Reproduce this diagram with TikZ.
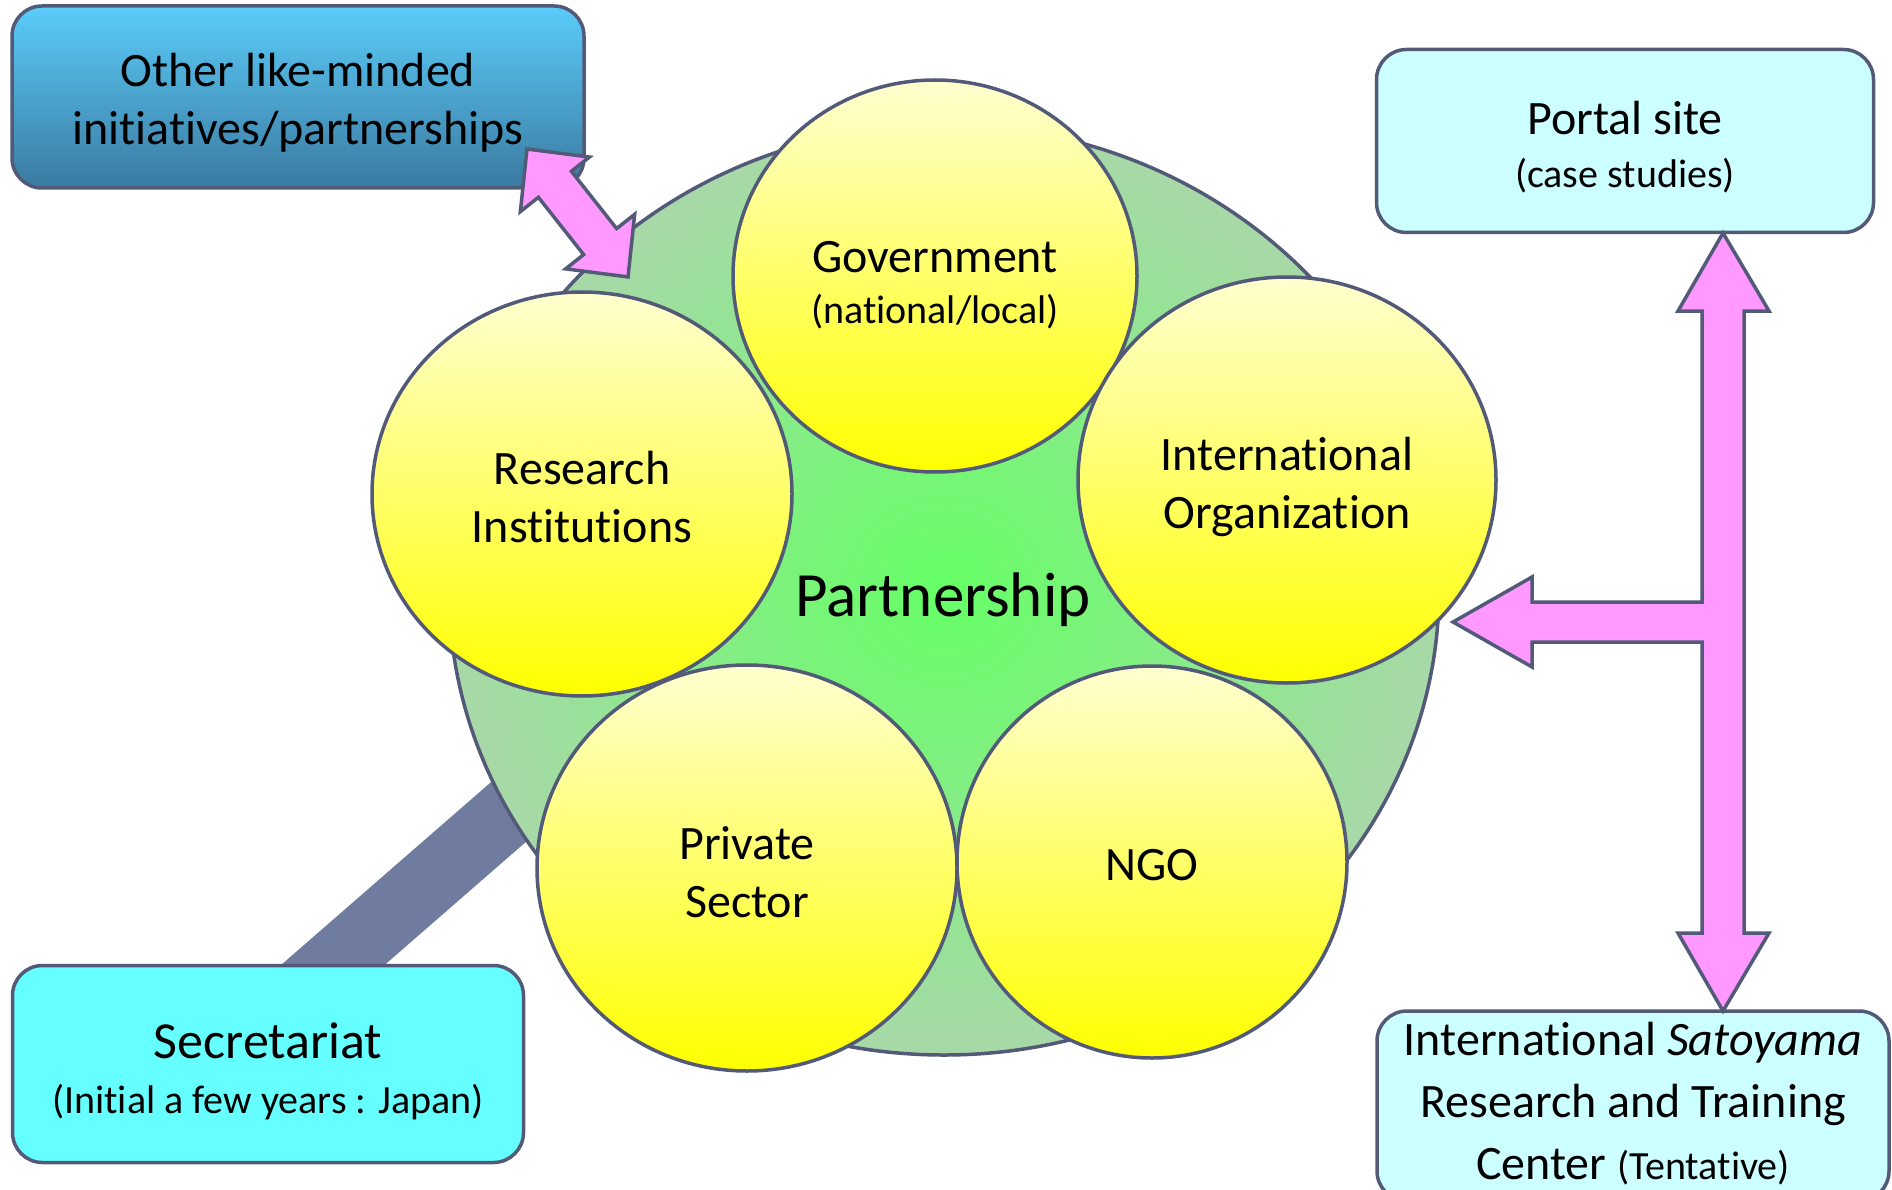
\documentclass[tikz,border=0pt]{standalone}
\usepackage{fontspec}
\setmainfont{Carlito}[Ligatures=NoCommon]
\usetikzlibrary{shapes.geometric}

\definecolor{edge}{RGB}{82,90,120}
\definecolor{band}{RGB}{112,123,160}
\definecolor{arrowpink}{RGB}{255,153,255}
\definecolor{ringgreen}{RGB}{168,216,168}
\definecolor{coregreen}{RGB}{102,255,102}
\definecolor{paleyellow}{RGB}{255,255,208}
\definecolor{skytop}{RGB}{91,204,250}
\definecolor{skybottom}{RGB}{58,122,160}
\definecolor{palecyan}{RGB}{204,255,255}
\definecolor{cyanbox}{RGB}{102,255,255}

\newcommand\subline{\fontsize{40}{50}\selectfont}

\tikzset{
	member/.style={ellipse, draw=edge, line width=3.5pt, top color=paleyellow, bottom color=yellow, inner sep=0pt},
	pane/.style={rectangle, rounded corners=30pt, draw=edge, line width=3.5pt, inner sep=0pt},
	txt/.style={align=center, inner sep=0pt, font=\fontsize{48}{58}\selectfont},
	fatarrow/.style={draw=edge, line width=3.5pt, fill=arrowpink}
}

\begin{document}
\begin{tikzpicture}[x=1pt, y=-1pt]
	\useasboundingbox (0,0) rectangle (1892,1190);
	% link to the secretariat
	\coordinate (foot) at (288,1004);
	\coordinate (hub) at (559,768);
	\draw[band, line width=68pt] (foot) -- (hub);
	% partnership
	\node[ellipse, draw=edge, line width=3.5pt, inner color=coregreen, outer color=ringgreen, minimum width=990pt, minimum height=930pt] (core) at (944,590) {};
	\node[member, minimum width=420pt, minimum height=404pt] (res) at (582,494) {};
	\node[member, minimum width=404pt, minimum height=392pt] (gov) at (935,276) {};
	\node[member, minimum width=418pt, minimum height=406pt] (intl) at (1287,480) {};
	\node[member, minimum width=390pt, minimum height=392pt] (ngo) at (1152,862) {};
	\node[member, minimum width=420pt, minimum height=406pt] (priv) at (747,868) {};
	\node[txt] (res-t) at (582,497) {Research\\Institutions};
	\node[txt] (gov-t) at (935,285) {Government\\[-7pt]\subline (national/local)};
	\node[txt] (intl-t) at (1287,487) {International\\Organization};
	\node[txt] (ngo-t) at (1152,865) {NGO};
	\node[txt] (priv-t) at (747,872) {Private\\Sector};
	\node[font=\fontsize{63}{70}\selectfont] (label) at (943,600) {Partnership};
	% boxes
	\node[pane, top color=skytop, bottom color=skybottom, minimum width=572pt, minimum height=182pt] (other) at (298,97) {};
	\node[pane, fill=palecyan, minimum width=497pt, minimum height=183pt] (portal) at (1625,141) {};
	\node[pane, fill=cyanbox, minimum width=511pt, minimum height=197pt] (sec) at (268,1064) {};
	\node[pane, fill=palecyan, minimum width=512pt, minimum height=190pt] (center) at (1633,1106) {};
	\node[txt] (other-t) at (298,103) {Other like-minded\\initiatives/partnerships};
	\node[txt] (portal-t) at (1625,147) {Portal site\\[-5pt]\subline (case studies)};
	\node[txt] (sec-t) at (268,1071) {\fontsize{52}{62}\selectfont Secretariat\\[-3pt]\subline (Initial a few years : Japan)};
	\node[txt, font=\fontsize{48}{62}\selectfont] (center-t) at (1633,1104) {International \textit{Satoyama}\\Research and Training\\Center {\subline (Tentative)}};
	% arrows
	\begin{scope}[shift={(527,149)}, rotate=-51.7]
		\draw[fatarrow] (0,0) -- (45,44) -- (45,21) -- (118,21) -- (118,44) -- (163,0) -- (118,-44) -- (118,-21) -- (45,-21) -- (45,-44) -- cycle;
	\end{scope}
	\draw[fatarrow] (1723,233) -- (1769,311) -- (1744,311) -- (1744,933) -- (1769,933) -- (1723,1011) -- (1678,933) -- (1702,933) -- (1702,642) -- (1532,642) -- (1532,667) -- (1453,622) -- (1532,577) -- (1532,602) -- (1702,602) -- (1702,311) -- (1678,311) -- cycle;
\end{tikzpicture}
\end{document}
